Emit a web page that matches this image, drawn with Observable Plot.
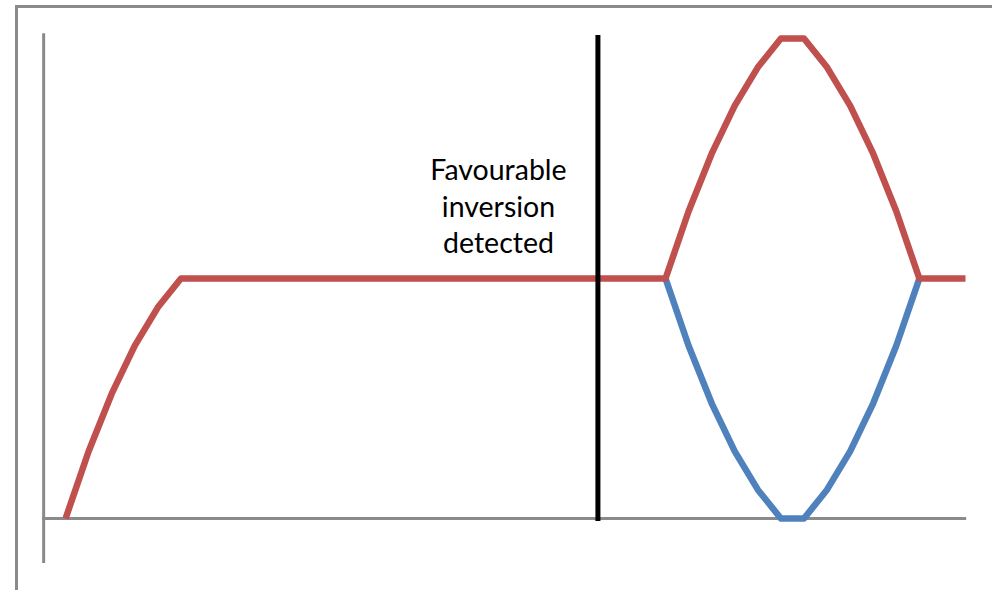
<!DOCTYPE html>
<html>
<head>
<meta charset="utf-8">
<script src="https://cdn.jsdelivr.net/npm/d3@7"></script>
<script src="https://cdn.jsdelivr.net/npm/@observablehq/plot@0.6"></script>
<style>
  html, body { margin: 0; padding: 0; background: #fff; overflow: hidden; }
  #wrap { position: relative; width: 992px; height: 590px; overflow: hidden; }
  #frame { position: absolute; left: 15px; top: 5px; width: 1000px; height: 620px;
           border: 3px solid #8a8a8a; box-sizing: border-box; pointer-events: none; }
  #chart { position: absolute; left: 0; top: 0; }
</style>
</head>
<body>
<div id="wrap"><div id="frame"></div><div id="chart"></div></div>
<script>
// Category index (0..39) and series values
const steps = d3.range(0, 40);
const redValues = [0, 14, 26, 36, 44, 50, 50, 50, 50, 50,
                   50, 50, 50, 50, 50, 50, 50, 50, 50, 50,
                   50, 50, 50, 50, 50, 50, 50, 64, 76, 86,
                   94, 100, 100, 94, 86, 76, 64, 50, 50, 50];
const blueSteps = d3.range(26, 38);
const blueValues = [50, 36, 24, 14, 6, 0, 0, 6, 14, 24, 36, 50];
const detectionStep = 23.07;
const annotation = "Favourable\ninversion\ndetected";
const annotationX = 18.76;
const annotationY = 65.3;

const red = steps.map((s, i) => ({step: s, value: redValues[i]}));
const blue = blueSteps.map((s, i) => ({step: s, value: blueValues[i]}));

const chart = Plot.plot({
  width: 992,
  height: 590,
  margin: 0,
  x: {domain: [-1, 39], range: [42, 965], axis: null},
  y: {domain: [0, 100], range: [518, 38], axis: null},
  marks: [
    Plot.ruleX([-0.95], {y1: -9.4, y2: 101, stroke: "#8a8a8a", strokeWidth: 3}),
    Plot.ruleY([0], {x1: -1.0, x2: 39.05, stroke: "#8a8a8a", strokeWidth: 3}),
    Plot.line(blue, {x: "step", y: "value", stroke: "#4F81BD", strokeWidth: 6.5, strokeLinejoin: "round", strokeLinecap: "butt"}),
    Plot.line(red, {x: "step", y: "value", stroke: "#C0504D", strokeWidth: 6.5, strokeLinejoin: "round", strokeLinecap: "butt"}),
    Plot.ruleX([detectionStep], {y1: -0.6, y2: 100.6, stroke: "#000", strokeWidth: 5}),
    Plot.text([annotation], {x: annotationX, y: annotationY, text: d => d, fontSize: 28.5,
      fontFamily: "Lato, 'Open Sans', sans-serif", fill: "#000", lineHeight: 1.28,
      textAnchor: "middle", lineAnchor: "middle"})
  ]
});
document.getElementById("chart").appendChild(chart);
</script>
</body>
</html>
